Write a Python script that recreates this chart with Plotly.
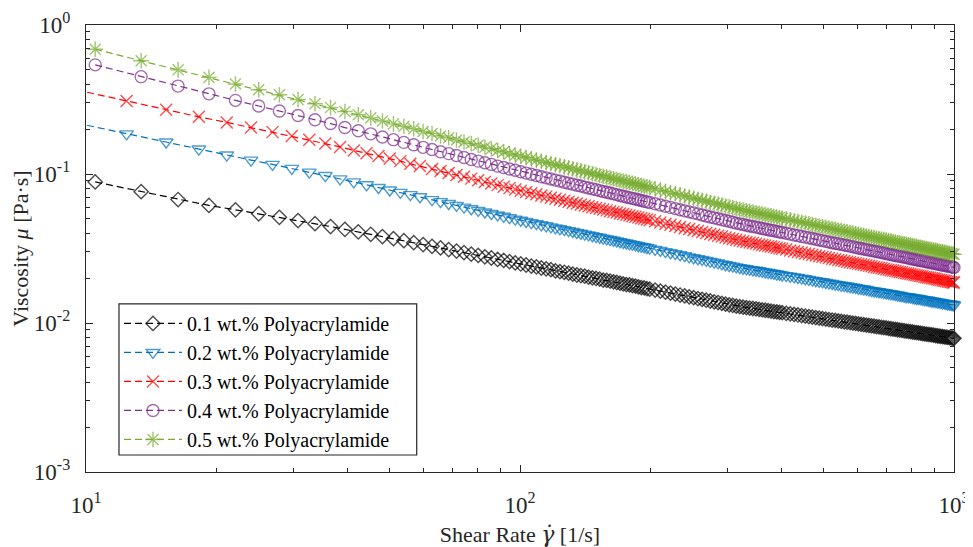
import plotly.graph_objects as go

# Shear-rate grid used by the 0.1, 0.4 and 0.5 wt.% series [1/s]
shear_rate_a = [
    10.5, 13.4, 16.3, 19.2, 22.1, 25.0, 27.9, 30.8, 33.7, 36.6, 39.5, 42.4, 45.3, 48.2, 51.1, 54.0, 56.9, 59.8,
    62.7, 65.6, 68.5, 71.4, 74.3, 77.2, 80.1, 83.0, 85.9, 88.8, 91.7, 94.6, 97.5, 100.4, 103.3, 106.2, 109.1,
    112.0, 114.9, 117.8, 120.7, 123.6, 126.5, 129.4, 132.3, 135.2, 138.1, 141.0, 143.9, 146.8, 149.7, 152.6,
    155.5, 158.4, 161.3, 164.2, 167.1, 170.0, 172.9, 175.8, 178.7, 181.6, 184.5, 187.4, 190.3, 193.2, 196.1, 199.0,
    204.8, 210.6, 216.4, 222.2, 228.0, 233.8, 239.6, 245.4, 251.2, 257.0, 262.8, 268.6, 274.4, 280.2, 286.0,
    291.8, 297.6, 303.4, 309.2, 315.0, 320.8, 326.6, 332.4, 338.2, 344.0, 349.8, 355.6, 361.4, 367.2, 373.0,
    378.8, 384.6, 390.4, 396.2, 402.0,
    410.7, 419.4, 428.1, 436.8, 445.5, 454.2, 462.9, 471.6, 480.3, 489.0, 497.7, 506.4, 515.1, 523.8, 532.5,
    541.2, 549.9, 558.6, 567.3, 576.0, 584.7, 593.4, 602.1, 610.8, 619.5, 628.2, 636.9, 645.6, 654.3, 663.0,
    671.7, 680.4, 689.1, 697.8, 706.5, 715.2, 723.9, 732.6, 741.3, 750.0, 758.7, 767.4, 776.1, 784.8, 793.5,
    802.2, 810.9, 819.6, 828.3, 837.0, 845.7, 854.4, 863.1, 871.8, 880.5, 889.2, 897.9, 906.6, 915.3, 924.0,
    932.7, 941.4, 950.1, 958.8, 967.5, 976.2, 984.9, 993.6, 1000.0,
]
# The 0.2 and 0.3 wt.% series start slightly lower (first point falls left of the axis)
shear_rate_b_start = [9.5, 12.4, 15.3, 18.2, 21.1, 24.0, 26.9, 29.8, 32.7, 35.6, 38.5, 41.4, 44.3, 47.2,
                      50.1, 53.0, 55.9, 58.8]
shear_rate_b = shear_rate_b_start + shear_rate_a[18:]

viscosity_01 = [
    0.0885, 0.0761, 0.0674, 0.0615, 0.0575, 0.0541, 0.0512, 0.0487, 0.0464, 0.0444,
    0.0425, 0.0409, 0.0394, 0.0380, 0.0368, 0.0357, 0.0346, 0.0336, 0.0327, 0.0319,
    0.0311, 0.0304, 0.0297, 0.0290, 0.0284, 0.0278, 0.0273, 0.0267, 0.0263, 0.0258,
    0.0253, 0.0249, 0.0245, 0.0241, 0.0238, 0.0234, 0.0231, 0.0228, 0.0224, 0.0221,
    0.0219, 0.0216, 0.0213, 0.0210, 0.0208, 0.0206, 0.0203, 0.0201, 0.0199, 0.0197,
    0.0194, 0.0193, 0.0191, 0.0189, 0.0187, 0.0185, 0.0183, 0.0181, 0.0180, 0.0178,
    0.0177, 0.0175, 0.0173, 0.0172, 0.0170, 0.0169,
    0.01663, 0.01637, 0.01611, 0.01587, 0.01563, 0.01541, 0.01520, 0.01498, 0.01479, 0.01459,
    0.01441, 0.01422, 0.01405, 0.01388, 0.01372, 0.01356, 0.01340, 0.01325, 0.01311, 0.01297,
    0.01287, 0.01277, 0.01267, 0.01259, 0.01251, 0.01242, 0.01234, 0.01226, 0.01218, 0.01210,
    0.01202, 0.01194, 0.01187, 0.01180, 0.01173,
    0.01161, 0.01152, 0.01141, 0.01132, 0.01122, 0.01113, 0.01104, 0.01096, 0.01087, 0.01079,
    0.01071, 0.01063, 0.01055, 0.01047, 0.01040, 0.01033, 0.01026, 0.01019, 0.01012, 0.01006,
    0.00999, 0.00993, 0.00987, 0.00980, 0.00974, 0.00969, 0.00963, 0.00957, 0.00952, 0.00946,
    0.00941, 0.00936, 0.00930, 0.00926, 0.00920, 0.00915, 0.00910, 0.00906, 0.00901, 0.00896,
    0.00892, 0.00887, 0.00883, 0.00878, 0.00874, 0.00870, 0.00866, 0.00862, 0.00858, 0.00854,
    0.00850, 0.00846, 0.00842, 0.00839, 0.00835, 0.00831, 0.00828, 0.00824, 0.00821, 0.00817,
    0.00814, 0.00810, 0.00807, 0.00804, 0.00801, 0.00797, 0.00794, 0.00791, 0.00789,
]

viscosity_02 = [
    0.220, 0.186, 0.164, 0.147, 0.134, 0.124, 0.116, 0.109, 0.103, 0.0976,
    0.0928, 0.0885, 0.0846, 0.0812, 0.0781, 0.0753, 0.0727, 0.0703,
    0.0673, 0.0653, 0.0634, 0.0616, 0.0599, 0.0584, 0.0570, 0.0556, 0.0543, 0.0531,
    0.0520, 0.0509, 0.0498, 0.0489, 0.0480, 0.0472, 0.0464, 0.0456, 0.0449, 0.0442,
    0.0435, 0.0429, 0.0423, 0.0417, 0.0411, 0.0405, 0.0400, 0.0395, 0.0390, 0.0385,
    0.0380, 0.0376, 0.0371, 0.0367, 0.0363, 0.0359, 0.0355, 0.0351, 0.0347, 0.0344,
    0.0340, 0.0337, 0.0334, 0.0330, 0.0327, 0.0324, 0.0321, 0.0318,
    0.0312, 0.0307, 0.0301, 0.0296, 0.0292, 0.0287, 0.0283, 0.0278, 0.0274, 0.0270,
    0.0267, 0.0263, 0.0259, 0.0256, 0.0253, 0.0249, 0.0246, 0.0243, 0.0241, 0.0238,
    0.0235, 0.0233, 0.0231, 0.0229, 0.0227, 0.0226, 0.0224, 0.0222, 0.0220, 0.0218,
    0.0217, 0.0215, 0.0213, 0.0212, 0.0210,
    0.0208, 0.0206, 0.0204, 0.0202, 0.0200, 0.0198, 0.0196, 0.0194, 0.0192, 0.0190,
    0.0189, 0.0187, 0.0185, 0.0184, 0.0182, 0.0181, 0.0179, 0.0178, 0.0177, 0.0175,
    0.0174, 0.0173, 0.0171, 0.0170, 0.0169, 0.0168, 0.0166, 0.0165, 0.0164, 0.0163,
    0.0162, 0.0161, 0.0160, 0.0159, 0.0158, 0.0157, 0.0156, 0.0155, 0.0154, 0.0153,
    0.0152, 0.0151, 0.0150, 0.0150, 0.0149, 0.0148, 0.0147, 0.0146, 0.0146, 0.0145,
    0.0144, 0.0143, 0.0143, 0.0142, 0.0141, 0.0140, 0.0140, 0.0139, 0.0138, 0.0138,
    0.0137, 0.0136, 0.0136, 0.0135, 0.0134, 0.0134, 0.0133, 0.0133, 0.0132,
]

viscosity_03 = [
    0.367, 0.309, 0.270, 0.242, 0.222, 0.205, 0.191, 0.180, 0.170, 0.160,
    0.152, 0.144, 0.138, 0.132, 0.127, 0.122, 0.117, 0.113,
    0.1082, 0.1047, 0.1015, 0.0985, 0.0957, 0.0931, 0.0907, 0.0883, 0.0862, 0.0842,
    0.0822, 0.0804, 0.0787, 0.0771, 0.0756, 0.0743, 0.0730, 0.0717, 0.0705, 0.0693,
    0.0682, 0.0672, 0.0662, 0.0652, 0.0642, 0.0633, 0.0624, 0.0615, 0.0607, 0.0599,
    0.0592, 0.0584, 0.0577, 0.0570, 0.0563, 0.0557, 0.0551, 0.0544, 0.0538, 0.0532,
    0.0526, 0.0521, 0.0516, 0.0510, 0.0505, 0.0500, 0.0495, 0.0490,
    0.0481, 0.0472, 0.0464, 0.0456, 0.0448, 0.0441, 0.0433, 0.0427, 0.0420, 0.0414,
    0.0408, 0.0402, 0.0396, 0.0391, 0.0385, 0.0380, 0.0375, 0.0371, 0.0366, 0.0362,
    0.0358, 0.0354, 0.0350, 0.0347, 0.0344, 0.0341, 0.0337, 0.0334, 0.0331, 0.0328,
    0.0326, 0.0323, 0.0320, 0.0317, 0.0315,
    0.0311, 0.0307, 0.0303, 0.0300, 0.0297, 0.0293, 0.0290, 0.0287, 0.0284, 0.0281,
    0.0278, 0.0276, 0.0273, 0.0270, 0.0268, 0.0265, 0.0263, 0.0261, 0.0258, 0.0256,
    0.0254, 0.0252, 0.0250, 0.0248, 0.0246, 0.0244, 0.0242, 0.0240, 0.0238, 0.0236,
    0.0235, 0.0233, 0.0231, 0.0229, 0.0228, 0.0226, 0.0225, 0.0223, 0.0222, 0.0220,
    0.0219, 0.0217, 0.0216, 0.0215, 0.0213, 0.0212, 0.0211, 0.0209, 0.0208, 0.0207,
    0.0206, 0.0204, 0.0203, 0.0202, 0.0201, 0.0200, 0.0199, 0.0198, 0.0196, 0.0195,
    0.0194, 0.0193, 0.0192, 0.0191, 0.0190, 0.0189, 0.0188, 0.0187, 0.0187,
]

viscosity_04 = [
    0.540, 0.450, 0.389, 0.345, 0.312, 0.286, 0.265, 0.247, 0.231, 0.218,
    0.205, 0.195, 0.186, 0.177, 0.170, 0.163, 0.157, 0.151, 0.146, 0.141,
    0.137, 0.133, 0.129, 0.125, 0.122, 0.119, 0.116, 0.113, 0.1105, 0.108,
    0.106, 0.1035, 0.1014, 0.0995, 0.0977, 0.0959, 0.0942, 0.0925, 0.0910, 0.0896,
    0.0881, 0.0867, 0.0855, 0.0841, 0.0830, 0.0817, 0.0805, 0.0795, 0.0785, 0.0774,
    0.0763, 0.0754, 0.0745, 0.0736, 0.0727, 0.0718, 0.0710, 0.0701, 0.0694, 0.0686,
    0.0679, 0.0671, 0.0664, 0.0657, 0.0650, 0.0644,
    0.0632, 0.0620, 0.0608, 0.0597, 0.0586, 0.0576, 0.0566, 0.0557, 0.0548, 0.0540,
    0.0531, 0.0523, 0.0515, 0.0508, 0.0501, 0.0494, 0.0487, 0.0481, 0.0474, 0.0468,
    0.0463, 0.0458, 0.0453, 0.0448, 0.0444, 0.0440, 0.0436, 0.0431, 0.0427, 0.0423,
    0.0419, 0.0416, 0.0412, 0.0408, 0.0405,
    0.0400, 0.0395, 0.0390, 0.0386, 0.0381, 0.0377, 0.0373, 0.0369, 0.0365, 0.0361,
    0.0357, 0.0353, 0.0350, 0.0346, 0.0343, 0.0340, 0.0337, 0.0334, 0.0331, 0.0328,
    0.0325, 0.0322, 0.0319, 0.0316, 0.0314, 0.0311, 0.0309, 0.0306, 0.0304, 0.0302,
    0.0299, 0.0297, 0.0295, 0.0293, 0.0290, 0.0288, 0.0286, 0.0284, 0.0282, 0.0280,
    0.0278, 0.0277, 0.0275, 0.0273, 0.0271, 0.0269, 0.0268, 0.0266, 0.0264, 0.0263,
    0.0261, 0.0260, 0.0258, 0.0256, 0.0255, 0.0254, 0.0252, 0.0251, 0.0249, 0.0248,
    0.0246, 0.0245, 0.0244, 0.0242, 0.0241, 0.0240, 0.0239, 0.0237, 0.0236,
]

viscosity_05 = [
    0.687, 0.576, 0.500, 0.445, 0.402, 0.368, 0.340, 0.316, 0.296, 0.279,
    0.263, 0.250, 0.238, 0.227, 0.217, 0.209, 0.201, 0.193, 0.187, 0.180,
    0.175, 0.169, 0.164, 0.160, 0.156, 0.151, 0.148, 0.144, 0.141, 0.137,
    0.134, 0.1315, 0.1288, 0.1264, 0.1240, 0.1217, 0.1195, 0.1174, 0.1154, 0.1135,
    0.1117, 0.1099, 0.1082, 0.1065, 0.1050, 0.1034, 0.1019, 0.1005, 0.0992, 0.0978,
    0.0965, 0.0953, 0.0941, 0.0929, 0.0918, 0.0907, 0.0896, 0.0885, 0.0875, 0.0865,
    0.0856, 0.0846, 0.0837, 0.0828, 0.0819, 0.0811,
    0.0795, 0.0779, 0.0764, 0.0750, 0.0737, 0.0724, 0.0711, 0.0699, 0.0688, 0.0677,
    0.0667, 0.0656, 0.0646, 0.0637, 0.0628, 0.0619, 0.0610, 0.0602, 0.0594, 0.0586,
    0.0580, 0.0573, 0.0567, 0.0561, 0.0556, 0.0550, 0.0545, 0.0539, 0.0534, 0.0529,
    0.0524, 0.0519, 0.0514, 0.0510, 0.0505,
    0.0498, 0.0492, 0.0486, 0.0480, 0.0474, 0.0469, 0.0463, 0.0458, 0.0453, 0.0448,
    0.0443, 0.0438, 0.0434, 0.0429, 0.0425, 0.0421, 0.0417, 0.0413, 0.0409, 0.0405,
    0.0401, 0.0398, 0.0394, 0.0391, 0.0388, 0.0384, 0.0381, 0.0378, 0.0375, 0.0372,
    0.0369, 0.0366, 0.0363, 0.0360, 0.0358, 0.0355, 0.0352, 0.0350, 0.0347, 0.0345,
    0.0342, 0.0340, 0.0338, 0.0335, 0.0333, 0.0331, 0.0329, 0.0327, 0.0324, 0.0322,
    0.0320, 0.0318, 0.0316, 0.0314, 0.0312, 0.0311, 0.0309, 0.0307, 0.0305, 0.0303,
    0.0302, 0.0300, 0.0298, 0.0297, 0.0295, 0.0293, 0.0292, 0.0290, 0.0289,
]

series_names = [
    "0.1 wt.% Polyacrylamide",
    "0.2 wt.% Polyacrylamide",
    "0.3 wt.% Polyacrylamide",
    "0.4 wt.% Polyacrylamide",
    "0.5 wt.% Polyacrylamide",
]

x_tick_vals = [10, 100, 1000]
x_tick_text = ["10<sup>1</sup>", "10<sup>2</sup>", "10<sup>3</sup>"]
y_tick_vals = [0.001, 0.01, 0.1, 1]
y_tick_text = ["10<sup>-3</sup>", "10<sup>-2</sup>", "10<sup>-1</sup>", "10<sup>0</sup>"]

x_minor = [m * 10 ** e for e in (1, 2) for m in range(2, 10)]
y_minor = [m * 10.0 ** e for e in (-3, -2, -1) for m in range(2, 10)]

SERIF = "Liberation Serif, Times New Roman, serif"

styles = [
    dict(color="#000000", symbol="diamond-open", size=11),
    dict(color="#0072BD", symbol="triangle-down-open", size=12),
    dict(color="#FF0000", symbol="x-thin-open", size=12),
    dict(color="#7E2F8E", symbol="circle-open", size=12),
    dict(color="#77AC30", symbol="asterisk-open", size=13),
]
xs = [shear_rate_a, shear_rate_b, shear_rate_b, shear_rate_a, shear_rate_a]
ys = [viscosity_01, viscosity_02, viscosity_03, viscosity_04, viscosity_05]

fig = go.Figure()
for name, st, x, y in zip(series_names, styles, xs, ys):
    # hide marker of a point that lies left of the axis range (line still enters from the edge)
    sizes = [0 if xv < 10 else st["size"] for xv in x]
    fig.add_trace(go.Scatter(
        x=x, y=y, name=name, mode="lines+markers", cliponaxis=False,
        line=dict(color=st["color"], width=1.2, dash="7px,4px"),
        marker=dict(symbol=st["symbol"], size=sizes, color=st["color"],
                    line=dict(color=st["color"], width=1.4)),
    ))

axis_color = "#262626"
common = dict(
    showline=True, linecolor=axis_color, linewidth=1.3, mirror="ticks",
    ticks="inside", ticklen=7, tickwidth=1, tickcolor=axis_color,
    showgrid=False, zeroline=False, automargin=False, ticklabeloverflow="allow",
    tickfont=dict(family=SERIF, size=23, color=axis_color),
)

# the page body adds an 8 px offset, so the figure is 8 px smaller and margins shifted
fig.update_layout(
    width=965, height=539,
    margin=dict(l=78, r=19, t=17, b=75, autoexpand=False),
    paper_bgcolor="white", plot_bgcolor="white",
    font=dict(family=SERIF, color=axis_color),
    xaxis=dict(
        type="log", range=[1, 3], tickvals=x_tick_vals, ticktext=x_tick_text,
        minor=dict(ticks="inside", ticklen=4, tickwidth=1, tickcolor=axis_color, tickvals=x_minor),
        ticklabelstandoff=12,
        title=dict(text="Shear Rate <span style=\"font-family:'DejaVu Serif'\"><i>γ̇</i></span> [1/s]",
                   font=dict(family=SERIF, size=22, color=axis_color), standoff=14),
        **common,
    ),
    yaxis=dict(
        type="log", range=[-3, 0], tickvals=y_tick_vals, ticktext=y_tick_text,
        minor=dict(ticks="inside", ticklen=4, tickwidth=1, tickcolor=axis_color, tickvals=y_minor),
        ticklabelstandoff=10,
        title=dict(text="Viscosity <i>μ</i> [Pa·s]", font=dict(family=SERIF, size=22, color=axis_color), standoff=0),
        **common,
    ),
    legend=dict(
        x=0.038, y=0.376, xanchor="left", yanchor="top",
        bgcolor="rgba(0,0,0,0)", borderwidth=0,
        font=dict(family=SERIF, size=20, color="#000000"),
        itemwidth=58, tracegroupgap=0,
    ),
    # legend frame (white box drawn over the data, under the legend entries)
    shapes=[dict(
        type="rect", xref="paper", yref="paper", x0=0.038, x1=0.381, y0=0.038, y1=0.376,
        line=dict(color=axis_color, width=1.2), fillcolor="white", layer="above",
    )],
)

fig.write_html("out.html")
